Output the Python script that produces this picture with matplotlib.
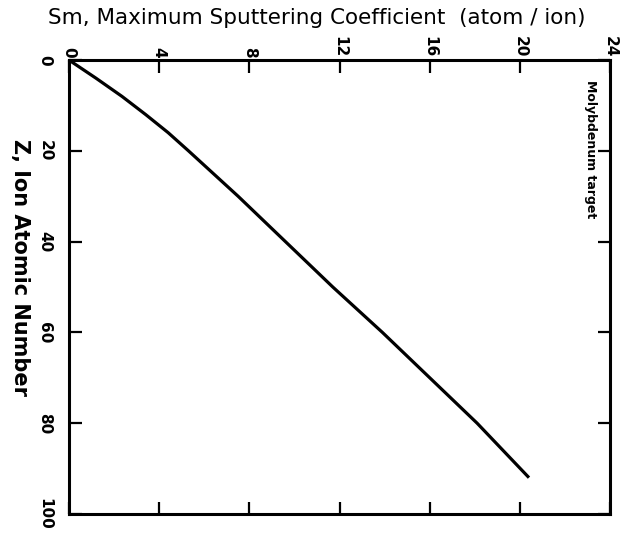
import matplotlib
matplotlib.use('Agg')
import matplotlib.pyplot as plt

# ion atomic number vs max sputtering coefficient
z_ion = [0, 4, 8, 12, 16, 20, 25, 30, 40, 50, 60, 70, 80, 92]
s_max = [0, 1.2, 2.35, 3.4, 4.4, 5.3, 6.4, 7.5, 9.6, 11.7, 13.9, 16.0, 18.1, 20.4]

x_ticks = [0, 4, 8, 12, 16, 20, 24]
y_ticks = [0, 20, 40, 60, 80, 100]

fig = plt.figure(figsize=(6.3, 5.34), dpi=100)
ax = fig.add_axes([0.1095, 0.0375, 0.859, 0.850])

ax.plot(s_max, z_ion, color='black', lw=2.3, solid_capstyle='butt')

ax.set_xlim(0, 24)
ax.set_ylim(100, 0)
ax.set_xticks(x_ticks)
ax.set_yticks(y_ticks)
ax.set_xticklabels([str(t) for t in x_ticks], rotation=-90, fontsize=11, fontweight='bold')
ax.set_yticklabels([str(t) for t in y_ticks], rotation=-90, fontsize=11, fontweight='bold',
                   va='center')

ax.tick_params(axis='both', direction='in', length=9, width=1.6)
ax.tick_params(axis='x', top=True, bottom=True, labeltop=True, labelbottom=False, pad=2)
ax.tick_params(axis='y', left=True, right=True, labelleft=True, labelright=False, pad=12)

for sp in ax.spines.values():
    sp.set_linewidth(2.2)

ax.xaxis.set_label_position('top')
ax.set_xlabel('Sm, Maximum Sputtering Coefficient  (atom / ion)', fontsize=15.5,
              ha='center', va='center')
ax.xaxis.set_label_coords(0.458, 1.093)
ax.set_ylabel('Z, Ion Atomic Number', fontsize=15, fontweight='bold', rotation=-90,
              ha='center', va='center')
ax.yaxis.set_label_coords(-0.09, 0.544)

ax.text(0.963, 0.956, 'Molybdenum target', transform=ax.transAxes, rotation=-90,
        fontsize=9, fontweight='bold', ha='center', va='top')

fig.savefig('out.png', dpi=100)
